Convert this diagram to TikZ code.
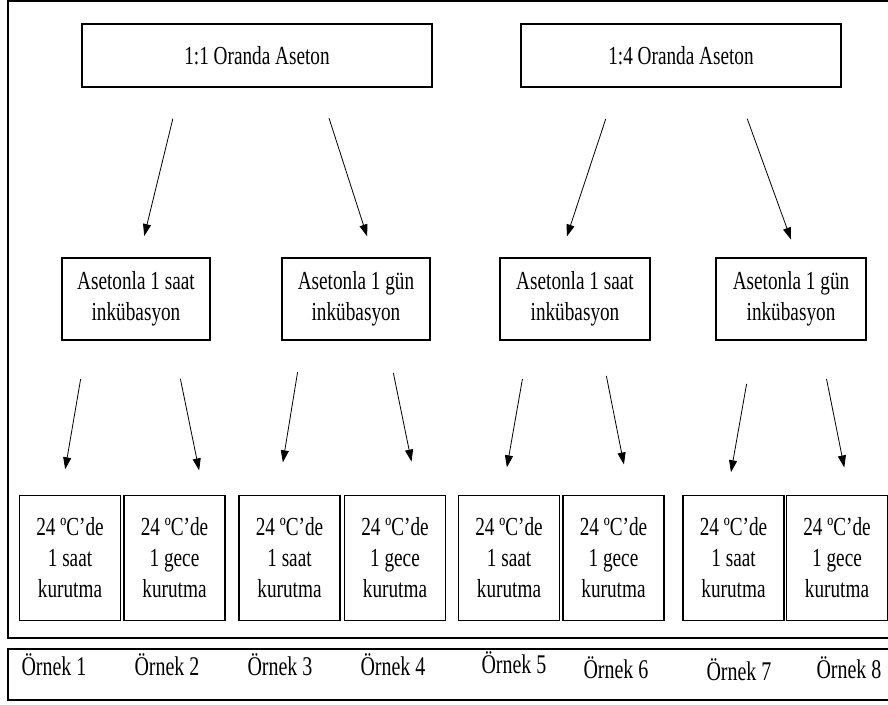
\documentclass[tikz,border=0pt]{standalone}
\usepackage{fontspec}
\setmainfont[FakeStretch=0.74]{Liberation Serif}
\usetikzlibrary{arrows.meta}
\usetikzlibrary{calc}

\begin{document}
\begin{tikzpicture}[x=1pt,y=-1pt,>={Triangle[length=12pt,width=8pt]},
		kutu/.style={draw,line width=1.2pt,inner sep=0pt,align=center,font=\fontsize{26}{31}\selectfont},
		ok/.style={->,line width=0.8pt}]
		
		\useasboundingbox (0,0) rectangle (888,704);
		
		% Frames
		\draw[line width=1.8pt] (888,1) -- (8,1) -- (8,638) -- (888,638);
		\draw[line width=1.4pt] (888,649) -- (8,649) -- (8,700) -- (888,700);
		
		% Aseton ratios
		\node[kutu,minimum width=350pt,minimum height=63pt] (oran1) at (257,55.5) {1:1 Oranda Aseton};
		\node[kutu,minimum width=320pt,minimum height=63pt] (oran2) at (681,55.5) {1:4 Oranda Aseton};
		
		% Incubation
		\node[kutu,minimum width=148pt,minimum height=82pt] (inkub1) at (136,299) {Asetonla 1 saat\\inkübasyon};
		\node[kutu,minimum width=148pt,minimum height=82pt] (inkub2) at (356,299) {Asetonla 1 gün\\inkübasyon};
		\node[kutu,minimum width=150pt,minimum height=82pt] (inkub3) at (575,299) {Asetonla 1 saat\\inkübasyon};
		\node[kutu,minimum width=150pt,minimum height=82pt] (inkub4) at (791,299) {Asetonla 1 gün\\inkübasyon};
		
		% Drying
		\foreach \n/\x/\s in {1/70/saat,2/174.5/gece,3/289.5/saat,4/395/gece,5/509/saat,6/613.5/gece,7/733.5/saat,8/837/gece}
			\node[kutu,minimum width=101pt,minimum height=125pt] (kur\n) at (\x,558) {24 ºC’de\\1 \s\\kurutma};
		
		% Samples
		\foreach \n/\x/\y in {1/54/665,2/167/665,3/280/665,4/393/665,5/514/663,6/616/668,7/739/670,8/849/668}
			\node[font=\fontsize{27}{31}\selectfont] (ornek\n) at (\x,\y) {Örnek \n};
		
		% Arrows
		\foreach \s/\p/\t/\q/\g/\h in {oran1/0.282/inkub1/0.52/32/22,oran1/0.677/inkub2/0.62/32/22,
			oran2/0.298/inkub3/0.40/33/22,oran2/0.671/inkub4/0.543/33/19,
			inkub1/0.173/kur1/0.41/39/26,inkub1/0.745/kur2/0.79/39/25,
			inkub2/0.143/kur3/0.383/32/33,inkub2/0.706/kur4/0.728/33/34,
			inkub3/0.197/kur5/0.432/39/28,inkub3/0.661/kur6/0.661/36/31,
			inkub4/0.257/kur7/0.436/44/23,inkub4/0.684/kur8/0.625/39/28}
			\draw[ok,shorten <=\g pt,shorten >=\h pt] ($(\s.south west)!\p!(\s.south east)$) -- ($(\t.north west)!\q!(\t.north east)$);
		
	\end{tikzpicture}
\end{document}
